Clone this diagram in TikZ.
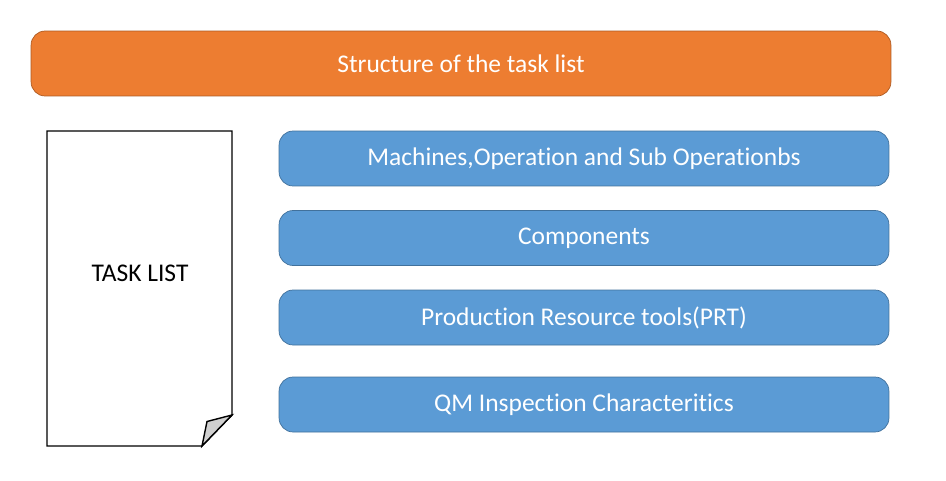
\documentclass[tikz,border=0pt]{standalone}
\usepackage{fontspec}
\setmainfont{Carlito}[Ligatures={NoCommon}]
\usetikzlibrary{positioning}

\definecolor{barorange}{HTML}{ED7D31}
\definecolor{barorangeline}{HTML}{AE5A21}
\definecolor{boxblue}{HTML}{5B9BD5}
\definecolor{boxblueline}{HTML}{41719C}
\definecolor{foldgray}{HTML}{D0D0D0}

\tikzset{
  labelfont/.style={font=\fontsize{14.5}{17}\selectfont},
  titlebar/.style={draw=barorangeline, fill=barorange, rounded corners=8, text=white,
    minimum width=17.2cm, minimum height=1.3cm, labelfont},
  itembox/.style={draw=boxblueline, fill=boxblue, rounded corners=8, text=white,
    minimum width=12.2cm, minimum height=1.1cm, labelfont},
}

\begin{document}
\begin{tikzpicture}[x=0.02cm, y=-0.02cm]

\useasboundingbox (0,0) rectangle (946,480);

% Title
\node[titlebar] (title) at (461,63.5) {Structure of the task list};

% Task list sheet
\draw[line width=0.8pt, fill=white] (47,131) -- (232,131) -- (232,415) -- (202,446) -- (47,446) -- cycle;
\draw[line width=0.8pt, fill=foldgray] (232,415) -- (207,421.5) -- (202,446) -- cycle;
\node[labelfont] (sheet) at (140,273) {TASK LIST};

% Items
\node[itembox] (machines) at (584,158.5) {Machines,Operation and Sub Operationbs};
\node[itembox] (components) at (584,238) {Components};
\node[itembox] (prt) at (584,317.5) {Production Resource tools(PRT)};
\node[itembox] (qm) at (584,404.5) {QM Inspection Characteritics};

\end{tikzpicture}
\end{document}
